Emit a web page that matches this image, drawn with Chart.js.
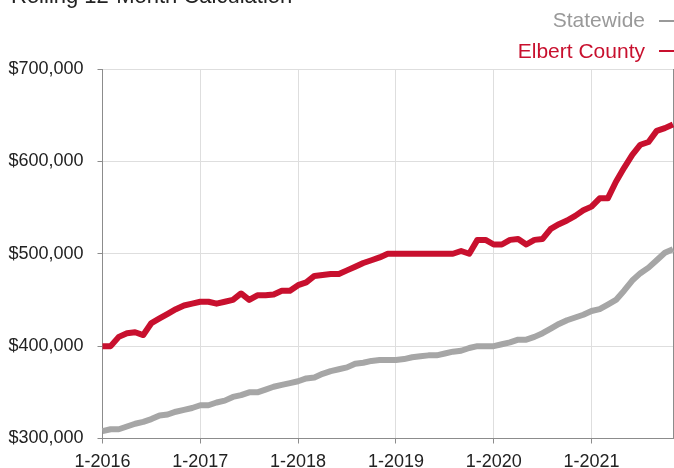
<!DOCTYPE html>
<html>
<head>
<meta charset="utf-8">
<script src="https://cdn.jsdelivr.net/npm/chart.js@4/dist/chart.umd.min.js"></script>
<style>
  body { margin: 0; background: #fff; font-family: "Liberation Sans", Arial, sans-serif; }
  #wrap { position: relative; width: 674px; height: 468px; overflow: hidden; }
  #title { position: absolute; left: 11px; top: -14.6px; font-size: 22px; line-height: 22px; color: #222; white-space: nowrap; }
  .leg { position: absolute; right: 29px; font-size: 21px; line-height: 21px; white-space: nowrap; }
  .dash { position: absolute; left: 659px; width: 15px; height: 2px; }
</style>
</head>
<body>
<div id="wrap">
  <canvas id="chart" width="674" height="468"></canvas>
  <div id="title">Rolling 12-Month Calculation</div>
  <div class="leg" style="top:8.9px;color:#999999">Statewide</div>
  <div class="dash" style="top:20px;background:#999999"></div>
  <div class="leg" style="top:39.5px;color:#c8102e">Elbert County</div>
  <div class="dash" style="top:50px;background:#c8102e"></div>
</div>
<script>
// Median sales price, rolling 12 months, 1-2016 through 11-2021
const firstYear = 2016;
const monthCount = 71;

const statewide = [
  308000, 310000, 310000, 313000, 316000, 318000, 321000, 325000, 326000, 329000, 331000, 333000,
  336000, 336000, 339000, 341000, 345000, 347000, 350000, 350000, 353000, 356000, 358000, 360000,
  362000, 365000, 366000, 370000, 373000, 375000, 377000, 381000, 382000, 384000, 385000, 385000,
  385000, 386000, 388000, 389000, 390000, 390000, 392000, 394000, 395000, 398000, 400000, 400000,
  400000, 402000, 404000, 407000, 407000, 410000, 414000, 419000, 424000, 428000, 431000, 434000,
  438000, 440000, 445000, 450000, 460000, 471000, 479000, 485000, 493000, 501000, 505000
];

const elbertCounty = [
  400000, 400000, 410000, 414000, 415000, 412000, 425000, 430000, 435000, 440000, 444000, 446000,
  448000, 448000, 446000, 448000, 450000, 457000, 450000, 455000, 455000, 456000, 460000, 460000,
  466000, 469000, 476000, 477000, 478000, 478000, 482000, 486000, 490000, 493000, 496000, 500000,
  500000, 500000, 500000, 500000, 500000, 500000, 500000, 500000, 503000, 500000, 515000, 515000,
  510000, 510000, 515000, 516000, 510000, 515000, 516000, 527000, 532000, 536000, 541000, 547000,
  551000, 560000, 560000, 578000, 593000, 607000, 618000, 621000, 633000, 636000, 640000
];

const labels = [];
for (let i = 0; i < monthCount; i++) {
  labels.push((i % 12 + 1) + '-' + (firstYear + Math.floor(i / 12)));
}

const axisGray = '#8c8c8c';
const gridGray = '#dedede';
const clear = 'rgba(0,0,0,0)';
const font = { family: '"Liberation Sans", Arial, sans-serif', size: 18 };

new Chart(document.getElementById('chart'), {
  type: 'line',
  data: {
    labels: labels,
    datasets: [
      { label: 'Statewide', data: statewide, borderColor: '#a6a6a6', borderWidth: 6,
        pointRadius: 0, tension: 0, borderJoinStyle: 'round', borderCapStyle: 'butt' },
      { label: 'Elbert County', data: elbertCounty, borderColor: '#c8102e', borderWidth: 6,
        pointRadius: 0, tension: 0, borderJoinStyle: 'round', borderCapStyle: 'butt' }
    ]
  },
  options: {
    responsive: false,
    animation: false,
    layout: { padding: { top: 69, left: 0, right: 1, bottom: 0 } },
    plugins: { legend: { display: false }, tooltip: { enabled: false } },
    scales: {
      x: {
        offset: false,
        afterFit: s => { s.height = 29.5; s.paddingRight = 0; },
        border: { color: axisGray },
        grid: {
          // year gridlines, plus the last one as the right frame
          color: c => (c.index % 12 === 0 ? gridGray : c.index === monthCount - 1 ? axisGray : clear),
          tickColor: c => (c.index % 12 === 0 ? axisGray : clear),
          tickLength: 5
        },
        ticks: {
          autoSkip: false, maxRotation: 0, minRotation: 0, padding: 8,
          color: '#222', font: font,
          callback: (v, i) => (i % 12 === 0 ? labels[i] : '')
        }
      },
      y: {
        min: 300000, max: 700000,
        afterFit: s => { s.width = 102.5; },
        border: { color: axisGray },
        grid: { color: gridGray, tickColor: axisGray, tickLength: 5 },
        ticks: {
          stepSize: 100000, padding: 14, color: '#222', font: font,
          callback: v => '$' + v.toLocaleString('en-US')
        }
      }
    }
  }
});
</script>
</body>
</html>
